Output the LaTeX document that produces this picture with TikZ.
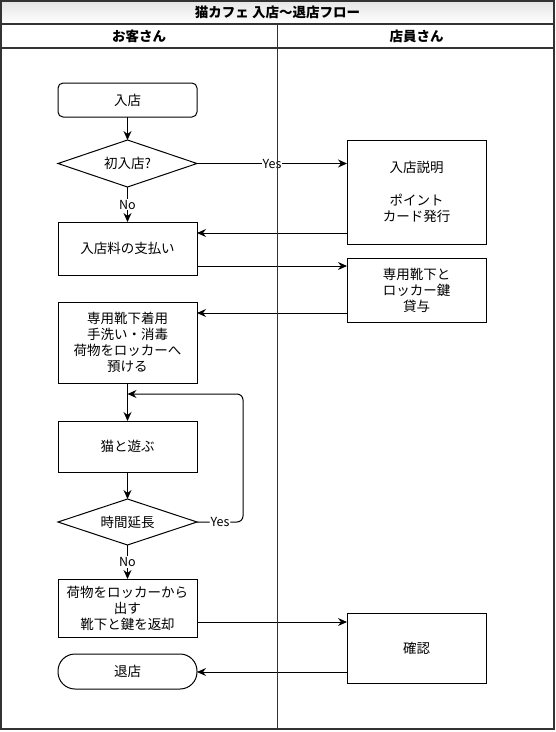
\documentclass[tikz,border=0pt]{standalone}
\usepackage{fontspec}
\setmainfont{Noto Sans CJK JP}
\usetikzlibrary{arrows.meta,shapes.geometric}

\begin{document}
\begin{tikzpicture}[x=1pt, y=-1pt, >={Stealth[length=9pt,width=8pt,inset=3pt]},
  font=\fontsize{13.5}{16}\selectfont,
  proc/.style={draw, line width=1pt, minimum width=139pt, inner sep=2pt, outer sep=0pt, align=center},
  term/.style={proc, rounded corners=5pt},
  pill/.style={proc, rounded corners=17pt},
  choice/.style={draw, diamond, aspect=3, line width=1pt, minimum width=139pt, minimum height=47pt, inner sep=1pt, outer sep=0pt},
  lbl/.style={fill=white, inner sep=1pt, font=\fontsize{12.5}{14}\selectfont},
  flow/.style={->, line width=1pt},
  frame/.style={draw=black!80, line width=1.5pt},
  head/.style={font=\fontsize{13.5}{16}\selectfont\bfseries}]
  \useasboundingbox (0,0) rectangle (556,732);
  \shade[top color=gray!20, bottom color=white] (1,1) rectangle (554,24);
  \node[head] (title) at (277.5,12.5) {猫カフェ 入店〜退店フロー};
  \node[head] (guest) at (139,36) {お客さん};
  \node[head] (staff) at (416.5,36) {店員さん};

  % guest lane
  \node[term, minimum height=34pt] (enter) at (127.5,100) {入店};
  \node[choice] (first) at (127.5,163.5) {初入店?};
  \node[proc, minimum height=53pt] (pay) at (127.5,248.5) {入店料の支払い};
  \node[proc, minimum height=81pt] (prep) at (127.5,342.5) {専用靴下着用\\手洗い・消毒\\荷物をロッカーへ\\預ける};
  \node[proc, minimum height=51pt] (play) at (127.5,446.5) {猫と遊ぶ};
  \node[choice, minimum height=46pt] (extend) at (127.5,522) {時間延長};
  \node[proc, minimum height=58pt] (back) at (127.5,608) {荷物をロッカーから\\出す\\靴下と鍵を返却};
  \node[pill, minimum height=35pt] (leave) at (127.5,671.5) {退店};

  % staff lane
  \node[proc, minimum height=104pt] (guide) at (416.5,192) {入店説明\\[17pt]ポイント\\カード発行};
  \node[proc, minimum height=64pt] (lend) at (416.5,290) {専用靴下と\\ロッカー鍵\\貸与};
  \node[proc, minimum height=70pt] (check) at (416.5,648) {確認};

  % flow
  \draw[flow] (enter) -- (first);
  \draw[flow] (first.east) -- node[lbl] {Yes} (first.east -| guide.west);
  \draw[flow] (first) -- node[lbl] {No} (pay);
  \draw[flow] ([yshift=11pt]guide.south west) -- ([yshift=11pt]guide.south west -| pay.east);
  \draw[flow] ([yshift=9pt]pay.south east) -- ([yshift=9pt]pay.south east -| lend.west);
  \draw[flow] ([yshift=9pt]lend.south west) -- ([yshift=9pt]lend.south west -| prep.east);
  \draw[flow] (prep) -- (play);
  \draw[flow] (play) -- (extend);
  \coordinate (rejoin) at ([yshift=-11pt]prep.south);
  \draw[flow, rounded corners=6pt] (extend.east) -- node[lbl] {Yes} ++(46,0) |- (rejoin);
  \draw[flow] (extend) -- node[lbl] {No} (back);
  \draw[flow] ([yshift=15pt]back.south east) -- ([yshift=15pt]back.south east -| check.west);
  \draw[flow] ([yshift=11pt]check.south west) -- ([yshift=11pt]check.south west -| leave.east);

  % pool and lanes
  \draw[frame] (1,1) rectangle (554,729);
  \draw[frame] (1,24) -- (554,24);
  \draw[frame] (1,48) -- (554,48);
  \draw[frame] (277.5,24) -- (277.5,729);
\end{tikzpicture}
\end{document}
